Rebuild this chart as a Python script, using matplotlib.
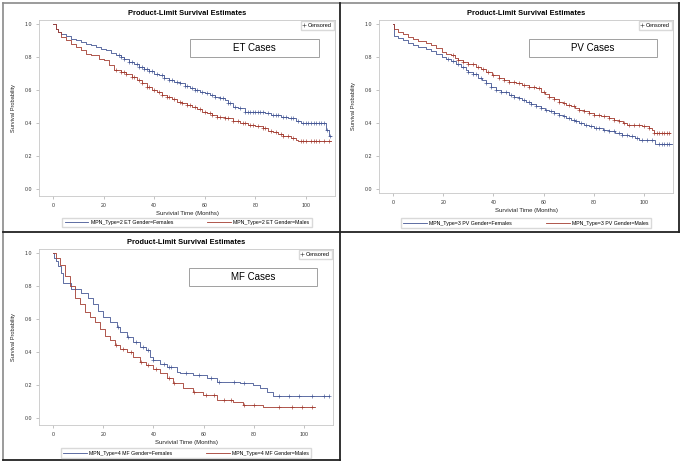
import numpy as np
import matplotlib
matplotlib.use("Agg")
import matplotlib.pyplot as plt
from matplotlib.lines import Line2D
from matplotlib.patches import Rectangle

plt.rcParams['font.family'] = ['Liberation Sans', 'DejaVu Sans']

BLUE = '#445694'
RED = '#A23A2E'

# ---- ET cases: (time, survival) knots of the step curves ----
et_f_t = [0, 1, 2, 3, 5, 7, 9, 11, 13, 15, 17, 19, 21, 23, 25, 27, 28, 30, 32, 34, 36, 38,
          40, 42, 44, 46, 48, 50, 52, 54, 56, 58, 60, 62, 64, 66, 68, 69, 71, 73, 76, 84,
          86, 90, 93, 96, 98, 108, 109, 110]
et_f_s = [1.0, 0.97, 0.95, 0.94, 0.925, 0.91, 0.90, 0.89, 0.88, 0.87, 0.86, 0.85, 0.84,
          0.825, 0.81, 0.80, 0.79, 0.77, 0.755, 0.74, 0.73, 0.715, 0.70, 0.69, 0.675, 0.66,
          0.65, 0.64, 0.625, 0.61, 0.60, 0.59, 0.58, 0.57, 0.56, 0.55, 0.54, 0.52, 0.50,
          0.49, 0.47, 0.46, 0.45, 0.44, 0.43, 0.41, 0.40, 0.36, 0.32, 0.32]
et_f_cens = [26, 27, 28, 30, 31, 33, 34, 35, 36, 37, 38, 39, 41, 43, 44, 46, 47, 49, 50,
             52, 53, 55, 56, 57, 59, 61, 63, 64, 66, 67, 69, 70, 72, 74, 76, 77, 78, 79, 80,
             81, 82, 83, 85, 87, 88, 89, 91, 92, 94, 95, 97, 99, 100, 101, 102, 103, 104,
             105, 106, 107, 108.5, 109.5]
et_m_t = [0, 1, 2, 3, 5, 7, 9, 11, 13, 15, 18, 20, 22, 24, 27, 29, 31, 33, 35, 37, 39, 41,
          43, 45, 47, 49, 51, 53, 55, 57, 59, 61, 63, 65, 68, 71, 74, 77, 80, 83, 85, 87,
          89, 91, 94, 96, 97, 110]
et_m_s = [1.0, 0.97, 0.95, 0.92, 0.90, 0.88, 0.86, 0.84, 0.82, 0.81, 0.79, 0.78, 0.75,
          0.72, 0.71, 0.70, 0.68, 0.66, 0.64, 0.62, 0.60, 0.59, 0.57, 0.56, 0.545, 0.53,
          0.52, 0.51, 0.50, 0.485, 0.47, 0.46, 0.45, 0.44, 0.43, 0.41, 0.40, 0.39, 0.38,
          0.37, 0.355, 0.345, 0.335, 0.325, 0.31, 0.295, 0.29, 0.29]
et_m_cens = [25, 27, 28, 29, 31, 32, 34, 35, 37, 38, 40, 42, 43, 45, 46, 48, 50, 51, 53,
             54, 56, 58, 60, 62, 63, 65, 66, 68, 69, 71, 73, 75, 76, 78, 79, 81, 83, 84, 86,
             88, 90, 91, 93, 95, 98, 99, 100, 102, 103, 104, 105, 107, 109]

# ---- PV cases ----
pv_f_t = [0, 0.3, 2, 4, 6, 8, 10, 13, 15, 17, 19.5, 21, 23, 25, 27, 29, 30, 32, 34, 35.5,
          37, 39, 41, 43, 46, 48, 50, 51.5, 53, 55, 57, 59, 60.5, 62, 64, 66, 67.5, 69, 71,
          72.5, 74, 76, 78, 80, 83.5, 86, 88.5, 91, 94, 96.5, 98, 104.5, 111]
pv_f_s = [1.0, 0.93, 0.915, 0.90, 0.885, 0.872, 0.86, 0.847, 0.835, 0.82, 0.80, 0.79,
          0.775, 0.76, 0.74, 0.72, 0.71, 0.695, 0.675, 0.66, 0.64, 0.62, 0.60, 0.585, 0.57,
          0.56, 0.55, 0.54, 0.53, 0.515, 0.50, 0.49, 0.48, 0.47, 0.46, 0.45, 0.44, 0.43,
          0.42, 0.41, 0.40, 0.39, 0.38, 0.37, 0.36, 0.35, 0.34, 0.33, 0.32, 0.31, 0.30,
          0.27, 0.27]
pv_f_cens = [22, 24, 26, 28, 30, 32, 33, 35, 37, 39, 41, 43, 45, 47, 48, 50, 52, 54, 55,
             57, 59, 61, 63, 64, 66, 68, 70, 72, 73, 75, 77, 79, 81, 82, 84, 86, 88, 90,
             91, 93, 95, 97, 99, 101, 103, 106, 107, 108, 109, 110]
pv_m_t = [0, 0.3, 2, 4, 6, 8, 10, 13, 15, 17, 19.5, 21, 23, 24.5, 26, 28, 30, 33, 35, 37,
          39.5, 42, 44, 46, 49, 51.5, 54, 57, 59, 60.5, 62, 64, 66, 67.5, 69, 71, 72.5, 74,
          76, 78, 80, 83, 86, 88, 90, 91.5, 93, 99, 102, 103, 104, 110.5]
pv_m_s = [1.0, 0.967, 0.95, 0.937, 0.923, 0.91, 0.897, 0.883, 0.87, 0.855, 0.833, 0.82,
          0.81, 0.795, 0.78, 0.77, 0.757, 0.74, 0.725, 0.71, 0.69, 0.675, 0.66, 0.65, 0.64,
          0.63, 0.62, 0.61, 0.59, 0.575, 0.56, 0.545, 0.53, 0.52, 0.51, 0.50, 0.49, 0.48,
          0.47, 0.46, 0.45, 0.44, 0.43, 0.42, 0.41, 0.40, 0.39, 0.38, 0.37, 0.355, 0.34,
          0.34]
pv_m_cens = [24, 26, 28, 30, 32, 34, 36, 38, 40, 42, 44, 46, 48, 50, 52, 54, 56, 58, 60,
             62, 64, 66, 68, 70, 72, 74, 76, 78, 80, 82, 84, 86, 88, 90, 92, 94, 96, 98,
             100, 102, 104, 105, 106, 107, 108, 109, 110]

# ---- MF cases ----
mf_f_t = [0, 0.5, 1, 2, 3, 4, 7.3, 11.3, 14, 16, 18, 20, 22.6, 25.3, 26.6, 29.3, 31.9,
          34.6, 37.2, 38.6, 39.9, 42.6, 45.2, 49.2, 50.5, 55.9, 61.2, 65.2, 74.5, 79.8,
          82.4, 85.1, 87.8, 110]
mf_f_s = [1.0, 0.97, 0.95, 0.92, 0.88, 0.82, 0.78, 0.76, 0.73, 0.69, 0.65, 0.61, 0.58,
          0.55, 0.52, 0.49, 0.46, 0.43, 0.41, 0.37, 0.35, 0.33, 0.31, 0.28, 0.27, 0.26,
          0.24, 0.22, 0.21, 0.20, 0.18, 0.155, 0.133, 0.133]
mf_f_cens = [26, 30, 33, 36, 38, 40, 44, 46, 47, 53, 58, 63, 66, 72, 76, 90, 94, 98, 103,
             108, 110]
mf_m_t = [0, 1.3, 2.7, 4.7, 6.6, 8.6, 10.6, 12.6, 14.6, 16.6, 18.6, 20.6, 22.6, 24.6,
          26.6, 29.3, 31.9, 34.6, 37.2, 39.9, 42.6, 45.2, 47.9, 51.9, 55.9, 59.8, 65.2,
          71.8, 75.8, 83.8, 104.4]
mf_m_s = [1.0, 0.97, 0.93, 0.86, 0.80, 0.73, 0.69, 0.64, 0.61, 0.58, 0.54, 0.50, 0.47,
          0.44, 0.42, 0.40, 0.37, 0.34, 0.32, 0.30, 0.27, 0.24, 0.21, 0.18, 0.16, 0.14,
          0.11, 0.10, 0.08, 0.07, 0.07]
mf_m_cens = [25, 28, 31, 35, 38, 41, 46, 48, 56, 61, 64, 68, 71, 76, 80, 90, 95, 99, 103]

x_ticks = [0, 20, 40, 60, 80, 100]
y_ticks = [0.0, 0.2, 0.4, 0.6, 0.8, 1.0]

W, H = 683, 465
fig = plt.figure(figsize=(W / 100, H / 100), dpi=100)


def px_axes(left, top, right, bottom):
    return fig.add_axes([left / W, 1 - bottom / H, (right - left) / W, (bottom - top) / H])


def step_value(t, s, c):
    idx = np.searchsorted(t, c, side='right') - 1
    return np.asarray(s)[idx]


def panel(box, ylim, curves, label, names, leg_y):
    ax = px_axes(*box)
    for t, s, cens, col in curves:
        ax.plot(t, s, drawstyle='steps-post', color=col, lw=0.6)
        ax.plot(cens, step_value(t, s, cens), ls='none', marker='+', ms=2.6,
                mew=0.45, color=col)
    ax.set_xlim(-5.6, 111.5)
    ax.set_ylim(*ylim)
    ax.set_xticks(x_ticks)
    ax.set_xticklabels([str(v) for v in x_ticks])
    ax.set_yticks(y_ticks)
    ax.set_yticklabels(['%.1f' % v for v in y_ticks])
    ax.tick_params(labelsize=3.8, labelcolor='#333333', length=2.5, width=0.5, pad=2.5,
                   color='#aaaaaa')
    for sp in ax.spines.values():
        sp.set_color('#c8c8c8')
        sp.set_linewidth(0.6)
    ax.set_title('Product-Limit Survival Estimates', fontsize=5.4, fontweight='bold',
                 pad=3.5)
    ax.set_xlabel('Survivial Time (Months)', fontsize=4.3, labelpad=2.5, color='#222222')
    ax.set_ylabel('Survival Probability', fontsize=4.1, labelpad=6, color='#222222')
    # case label box
    ax.add_patch(Rectangle((0.51, 0.787), 0.435, 0.106, transform=ax.transAxes,
                           facecolor='white', edgecolor='#a0a0a0', lw=0.7))
    ax.text(0.7275, 0.84, label, transform=ax.transAxes, ha='center', va='center',
            fontsize=7)
    # censored legend
    ax.legend(handles=[Line2D([], [], ls='none', marker='+', ms=2.5, mew=0.45,
                              color='#555555')],
              labels=['Censored'], loc='upper right', fontsize=4, frameon=True,
              fancybox=False, edgecolor='#d0d0d0', handlelength=0.6, handletextpad=0.3,
              borderpad=0.35, borderaxespad=0.25)
    # bottom legend
    handles = [Line2D([], [], color=BLUE, lw=0.6), Line2D([], [], color=RED, lw=0.6)]
    x_c = (box[0] + box[2]) / 2 / W
    y_c = 1 - leg_y / H
    fig.legend(handles=handles, labels=names, loc='center', bbox_to_anchor=(x_c, y_c),
               ncol=2, fontsize=3.8, frameon=True, fancybox=False, edgecolor='#d0d0d0',
               handlelength=4.5, columnspacing=6.5, borderpad=0.45, handletextpad=0.4)
    return ax


panel((39, 20, 335, 196), (-0.041, 1.024),
      [(et_f_t, et_f_s, et_f_cens, BLUE), (et_m_t, et_m_s, et_m_cens, RED)],
      'ET Cases', ['MPN_Type=2 ET Gender=Females', 'MPN_Type=2 ET Gender=Males'], 222.5)
panel((379, 20, 673, 193), (-0.024, 1.024),
      [(pv_f_t, pv_f_s, pv_f_cens, BLUE), (pv_m_t, pv_m_s, pv_m_cens, RED)],
      'PV Cases', ['MPN_Type=3 PV Gender=Females', 'MPN_Type=3 PV Gender=Males'], 223)
panel((39, 249, 333, 425), (-0.042, 1.024),
      [(mf_f_t, mf_f_s, mf_f_cens, BLUE), (mf_m_t, mf_m_s, mf_m_cens, RED)],
      'MF Cases', ['MPN_Type=4 MF Gender=Females', 'MPN_Type=4 MF Gender=Males'], 453)


# panel frames
def fline(x0, y0, x1, y1, color, lw):
    fig.add_artist(Line2D([x0 / W, x1 / W], [1 - y0 / H, 1 - y1 / H], color=color,
                          lw=lw, transform=fig.transFigure))


fline(3, 3, 679, 3, '#8a8a8a', 1.2)
fline(3, 3, 3, 460, '#8a8a8a', 1.2)
fline(340, 3, 340, 460, '#222222', 1.3)
fline(3, 232, 679, 232, '#222222', 1.3)
fline(679, 3, 679, 232, '#222222', 1.3)
fline(3, 460, 340, 460, '#222222', 1.3)

fig.savefig('out.png', dpi=100)
